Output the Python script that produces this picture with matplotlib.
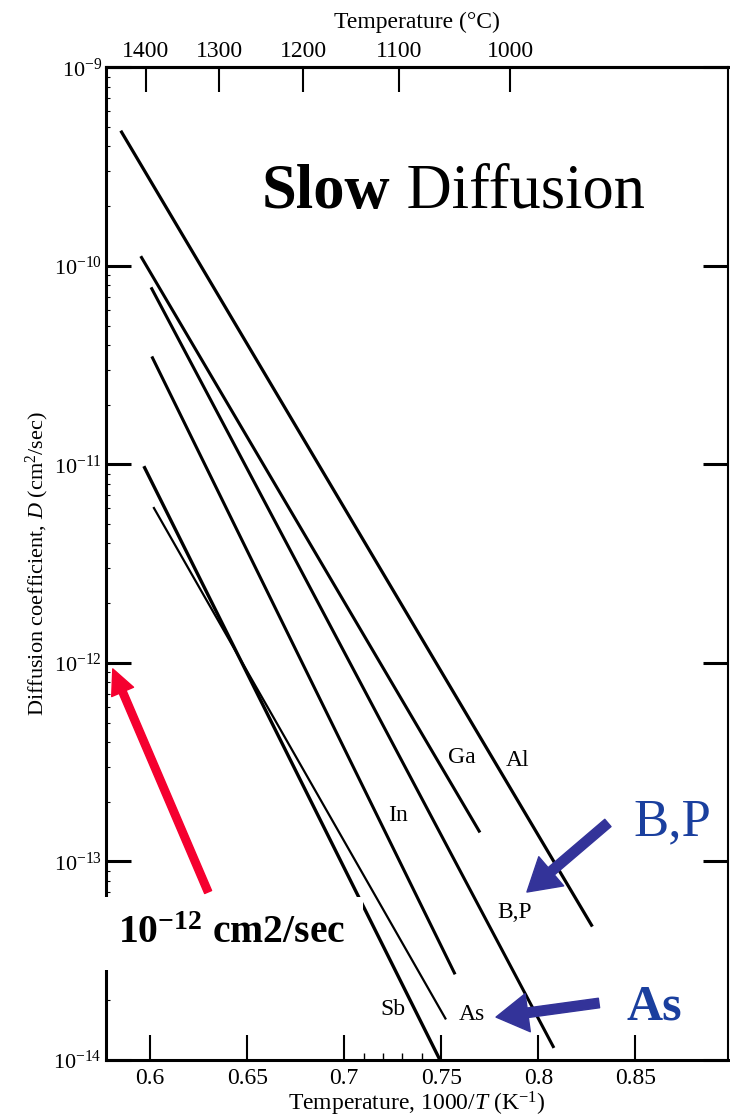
"""
Diffusion coefficients of the slow dopants in silicon vs. reciprocal temperature.
"""

import numpy as np
import matplotlib.pyplot as plt
from matplotlib.ticker import LogLocator, FixedLocator, NullFormatter

plt.rcParams['font.family'] = ['Liberation Serif', 'DejaVu Serif']
plt.rcParams['mathtext.fontset'] = 'custom'
plt.rcParams['mathtext.rm'] = 'Liberation Serif'
plt.rcParams['mathtext.it'] = 'Liberation Serif:italic'
plt.rcParams['mathtext.bf'] = 'Liberation Serif:bold'

# each dopant is a straight Arrhenius line: endpoints in 1000/T (1/K) and D (cm^2/sec)
dopants = ['Al', 'Ga', 'B,P', 'In', 'Sb', 'As']
inv_t_start = [0.5849, 0.5952, 0.6005, 0.6009, 0.5968, 0.6017]
inv_t_end = [0.8278, 0.7699, 0.8080, 0.7571, 0.7493, 0.7524]
d_start = [4.8e-10, 1.12e-10, 7.8e-11, 3.5e-11, 9.8e-12, 6.1e-12]
d_end = [4.7e-14, 1.4e-13, 1.15e-14, 2.7e-14, 1.0e-14, 1.6e-14]
line_widths = [2.3, 2.2, 2.2, 2.2, 2.4, 1.6]

# where the dopant names sit (text centres)
label_x = [0.7895, 0.7607, 0.7880, 0.7277, 0.7251, 0.7658]
label_logd = [-12.489, -12.474, -13.259, -12.766, -13.748, -13.773]

# top axis in degrees Celsius
celsius_ticks = [1400, 1300, 1200, 1100, 1000]
x_ticks = [0.6, 0.65, 0.7, 0.75, 0.8, 0.85]
x_tick_labels = ['0.6', '0.65', '0.7', '0.75', '0.8', '0.85']


def inv_t_to_celsius(x):
    x = np.asarray(x, dtype=float)
    return 1000.0 / np.where(x == 0, 1e-9, x) - 273.15


def celsius_to_inv_t(c):
    c = np.asarray(c, dtype=float)
    return 1000.0 / (c + 273.15)


fig = plt.figure(figsize=(7.3, 11.2), dpi=100)
ax = fig.add_axes([0.1452, 0.0536, 0.8527, 0.8862])

for i, name in enumerate(dopants):
    ax.plot([inv_t_start[i], inv_t_end[i]], [d_start[i], d_end[i]],
            color='black', lw=line_widths[i], solid_capstyle='butt')
    ax.text(label_x[i], 10 ** label_logd[i], name, fontsize=17,
            ha='center', va='center')

ax.set_yscale('log')
ax.set_xlim(0.5773, 0.8979)
ax.set_ylim(1e-14, 1e-9)

ax.set_xticks(x_ticks)
ax.set_xticklabels(x_tick_labels)
ax.xaxis.set_minor_locator(FixedLocator([0.71, 0.72, 0.73, 0.74]))
ax.yaxis.set_major_locator(LogLocator(base=10, numticks=10))
ax.yaxis.set_minor_locator(LogLocator(base=10, subs=np.arange(2, 10), numticks=20))
ax.yaxis.set_minor_formatter(NullFormatter())

ax.tick_params(axis='x', which='major', direction='in', length=18, width=1.5,
               top=False, labelsize=17, pad=6)
ax.tick_params(axis='x', which='minor', direction='in', length=5, width=1,
               top=False)
ax.tick_params(axis='y', which='major', direction='in', length=18, width=2.2,
               left=True, right=True, labelsize=16, pad=3)
ax.tick_params(axis='y', which='minor', direction='in', length=3, width=0.8,
               right=False)

for side in ['left', 'top', 'bottom']:
    ax.spines[side].set_linewidth(2.2)
ax.spines['right'].set_linewidth(1.5)

ax.set_xlabel('Temperature, 1000/$T$ (K$^{-1}$)', fontsize=17, labelpad=0)
ax.set_ylabel('Diffusion coefficient, $D$ (cm$^2$/sec)', fontsize=16, labelpad=2)

top = ax.secondary_xaxis('top', functions=(inv_t_to_celsius, celsius_to_inv_t))
top.set_xticks(celsius_ticks)
top.set_xticklabels([str(c) for c in celsius_ticks])
top.tick_params(axis='x', direction='in', length=18, width=1.5, labelsize=17, pad=4)
top.spines['top'].set_linewidth(2.2)
top.set_xlabel('Temperature (\u00b0C)', fontsize=17, labelpad=9)

# headline
slow = ax.text(0.6577, 10 ** -9.778, 'Slow', fontsize=45, fontweight='bold',
               ha='left', va='bottom')
ax.annotate(' Diffusion', xy=(1, 0), xycoords=slow, fontsize=45,
            ha='left', va='bottom')

# red callout for 1e-12 cm^2/sec
ax.annotate('', xy=(0.5808, 10 ** -12.03), xytext=(0.6299, 10 ** -13.154),
            arrowprops=dict(arrowstyle='simple,head_length=1.0,head_width=0.95,tail_width=0.3',
                            mutation_scale=18, color='#f5002f', shrinkA=0, shrinkB=0))
ax.text(0.5835, 10 ** -13.411, r'$\mathbf{10}^{\mathbf{-12}}$ cm2/sec', fontsize=28.5,
        fontweight='bold', ha='left', va='baseline', zorder=10,
        bbox=dict(boxstyle='square,pad=0.45', facecolor='white', edgecolor='none'))

# blue callouts
arrow_blue = '#333399'
text_blue = '#1a3f9e'
blue_style = 'simple,head_length=1.0,head_width=1.2,tail_width=0.3'
ax.annotate('', xy=(0.7941, 10 ** -13.154), xytext=(0.8358, 10 ** -12.806),
            arrowprops=dict(arrowstyle=blue_style, mutation_scale=23,
                            color=arrow_blue, shrinkA=0, shrinkB=0), zorder=6)
ax.annotate('', xy=(0.7782, 10 ** -13.784), xytext=(0.8312, 10 ** -13.713),
            arrowprops=dict(arrowstyle=blue_style, mutation_scale=23,
                            color=arrow_blue, shrinkA=0, shrinkB=0), zorder=6)
ax.text(0.8492, 10 ** -12.867, 'B,P', fontsize=38, color=text_blue,
        ha='left', va='baseline')
ax.text(0.8456, 10 ** -13.798, 'As', fontsize=36, fontweight='bold',
        color=text_blue, ha='left', va='baseline')

fig.savefig('out.png', dpi=100)
